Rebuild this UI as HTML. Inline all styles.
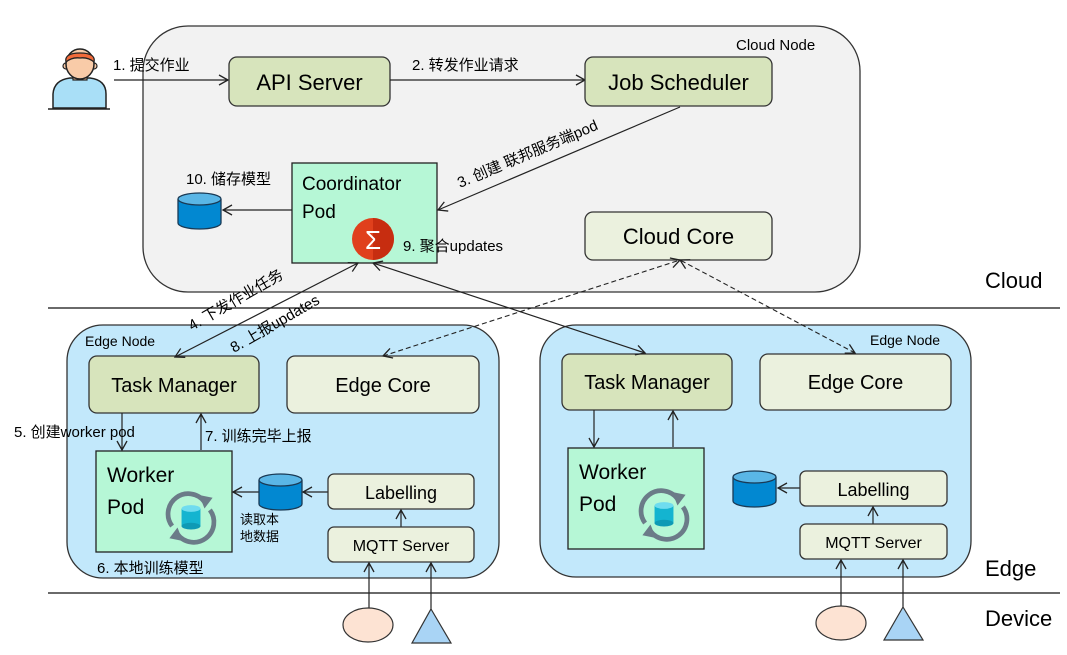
<!DOCTYPE html>
<html><head><meta charset="utf-8"><style>
html,body{margin:0;padding:0;background:#fff;}
svg{display:block;}
text{font-family:"Liberation Sans","Noto Sans CJK SC",sans-serif;fill:#000;}
</style></head><body>
<svg width="1067" height="655" viewBox="0 0 1067 655" xmlns="http://www.w3.org/2000/svg">
<defs>
<marker id="a" markerWidth="12" markerHeight="12" refX="10" refY="6" orient="auto-start-reverse" markerUnits="userSpaceOnUse">
<path d="M1,1 L10,6 L1,11" fill="none" stroke="#222" stroke-width="1.3"/></marker>
<g id="cyl">
<path d="M0,6 L0,30 A21.5,6 0 0 0 43,30 L43,6" fill="#0288d1" stroke="#1a3a55" stroke-width="1.3"/>
<ellipse cx="21.5" cy="6" rx="21.5" ry="6" fill="#5ab6e6" stroke="#1a3a55" stroke-width="1.3"/>
</g>
<g id="sync">
<path d="M-14,6 A15,15 0 0 1 10,-12" fill="none" stroke="#6b7b88" stroke-width="3.5"/>
<path d="M6,-17 L16,-15 L10,-7 Z" fill="#6b7b88"/>
<path d="M14,-6 A15,15 0 0 1 -10,12" fill="none" stroke="#6b7b88" stroke-width="3.5"/>
<path d="M-6,17 L-16,15 L-10,7 Z" fill="#6b7b88"/>
<rect x="-7" y="-7" width="14" height="13" fill="#14b4d0"/>
<ellipse cx="0" cy="-7" rx="7" ry="2.5" fill="#6fdcef"/>
<ellipse cx="0" cy="6" rx="7" ry="2.5" fill="#0e9ab5"/>
</g>
</defs>

<!-- Cloud node -->
<rect x="143" y="26" width="717" height="266" rx="45" fill="#f2f2f2" stroke="#333" stroke-width="1.3"/>
<text x="736" y="50" font-size="15">Cloud Node</text>

<!-- person -->
<g>
<path d="M53,108 L53,94 Q54,80 70,78 L90,78 Q106,80 106,94 L106,108 Z" fill="#a9dff7" stroke="#222" stroke-width="1.5"/>
<rect x="73" y="70" width="14" height="10" fill="#f6c7a4" stroke="#222" stroke-width="1.2"/>
<circle cx="66" cy="66" r="3" fill="#f9cba8" stroke="#222" stroke-width="1.2"/>
<circle cx="94" cy="66" r="3" fill="#f9cba8" stroke="#222" stroke-width="1.2"/>
<ellipse cx="80" cy="64" rx="14" ry="15" fill="#f9cba8" stroke="#222" stroke-width="1.5"/>
<path d="M66,62 Q64,53 80,53 Q96,53 94,62 Q88,57 80,58 Q72,57 66,62 Z" fill="#f26a3a" stroke="#222" stroke-width="1.3"/>
<line x1="48" y1="109" x2="110" y2="109" stroke="#222" stroke-width="1.6"/>
</g>

<line x1="114" y1="80" x2="228" y2="80" stroke="#222" stroke-width="1.2" marker-end="url(#a)"/>
<text x="113" y="70" font-size="15">1. 提交作业</text>
<rect x="229" y="57" width="161" height="49" rx="8" fill="#d7e4bc" stroke="#333" stroke-width="1.3"/>
<text x="309.5" y="90" font-size="22" text-anchor="middle">API Server</text>
<line x1="390" y1="80" x2="585" y2="80" stroke="#222" stroke-width="1.2" marker-end="url(#a)"/>
<text x="412" y="70" font-size="15">2. 转发作业请求</text>
<rect x="585" y="57" width="187" height="49" rx="8" fill="#d7e4bc" stroke="#333" stroke-width="1.3"/>
<text x="678.5" y="90" font-size="22" text-anchor="middle">Job Scheduler</text>

<line x1="680" y1="107" x2="438" y2="210" stroke="#222" stroke-width="1.2" marker-end="url(#a)"/>
<text x="0" y="0" font-size="15" transform="translate(460,188) rotate(-23)">3. 创建 联邦服务端pod</text>

<rect x="292" y="163" width="145" height="100" fill="#b6f7d6" stroke="#222" stroke-width="1.3"/>
<text x="302" y="190" font-size="19">Coordinator</text>
<text x="302" y="218" font-size="19">Pod</text>
<circle cx="373" cy="239" r="21" fill="#e0401c"/>
<path d="M373,218 A21,21 0 0 1 373,260 Z" fill="#c72d10"/>
<text x="373" y="249" font-size="26" text-anchor="middle" fill="#fff" style="fill:#fff">Σ</text>
<text x="403" y="251" font-size="15">9. 聚合updates</text>

<line x1="292" y1="210" x2="223" y2="210" stroke="#222" stroke-width="1.2" marker-end="url(#a)"/>
<use href="#cyl" x="178" y="193"/>
<text x="186" y="184" font-size="15">10. 储存模型</text>

<rect x="585" y="212" width="187" height="48" rx="8" fill="#ebf1de" stroke="#333" stroke-width="1.3"/>
<text x="678.5" y="244" font-size="22" text-anchor="middle">Cloud Core</text>

<text x="985" y="288" font-size="22">Cloud</text>
<line x1="48" y1="308" x2="1060" y2="308" stroke="#111" stroke-width="1.3"/>

<!-- Left edge node -->
<rect x="67" y="325" width="432" height="253" rx="36" fill="#c2e8fb" stroke="#333" stroke-width="1.3"/>
<text x="85" y="346" font-size="14">Edge Node</text>
<rect x="89" y="356" width="170" height="57" rx="8" fill="#d7e4bc" stroke="#333" stroke-width="1.3"/>
<text x="174" y="392" font-size="20" text-anchor="middle">Task Manager</text>
<rect x="287" y="356" width="192" height="57" rx="8" fill="#ebf1de" stroke="#333" stroke-width="1.3"/>
<text x="383" y="392" font-size="20" text-anchor="middle">Edge Core</text>
<line x1="122" y1="413" x2="122" y2="450" stroke="#222" stroke-width="1.2" marker-end="url(#a)"/>
<line x1="201" y1="450" x2="201" y2="414" stroke="#222" stroke-width="1.2" marker-end="url(#a)"/>
<text x="14" y="437" font-size="15">5. 创建worker pod</text>
<text x="205" y="441" font-size="15">7. 训练完毕上报</text>
<rect x="96" y="451" width="136" height="101" fill="#b6f7d6" stroke="#222" stroke-width="1.3"/>
<text x="107" y="482" font-size="21">Worker</text>
<text x="107" y="514" font-size="21">Pod</text>
<use href="#sync" transform="translate(191,518) scale(1.35)"/>
<line x1="259" y1="492" x2="233" y2="492" stroke="#222" stroke-width="1.2" marker-end="url(#a)"/>
<use href="#cyl" x="259" y="474"/>
<text x="240" y="524" font-size="13">读取本</text>
<text x="240" y="541" font-size="13">地数据</text>
<line x1="328" y1="492" x2="303" y2="492" stroke="#222" stroke-width="1.2" marker-end="url(#a)"/>
<rect x="328" y="474" width="146" height="35" rx="6" fill="#ebf1de" stroke="#333" stroke-width="1.3"/>
<text x="401" y="499" font-size="18" text-anchor="middle">Labelling</text>
<line x1="401" y1="527" x2="401" y2="510" stroke="#222" stroke-width="1.2" marker-end="url(#a)"/>
<rect x="328" y="527" width="146" height="35" rx="6" fill="#ebf1de" stroke="#333" stroke-width="1.3"/>
<text x="401" y="551" font-size="16" text-anchor="middle">MQTT Server</text>
<text x="97" y="573" font-size="15">6. 本地训练模型</text>

<!-- Right edge node -->
<rect x="540" y="325" width="431" height="252" rx="36" fill="#c2e8fb" stroke="#333" stroke-width="1.3"/>
<text x="870" y="345" font-size="14">Edge Node</text>
<rect x="562" y="354" width="170" height="56" rx="8" fill="#d7e4bc" stroke="#333" stroke-width="1.3"/>
<text x="647" y="389" font-size="20" text-anchor="middle">Task Manager</text>
<rect x="760" y="354" width="191" height="56" rx="8" fill="#ebf1de" stroke="#333" stroke-width="1.3"/>
<text x="855.5" y="389" font-size="20" text-anchor="middle">Edge Core</text>
<line x1="594" y1="410" x2="594" y2="447" stroke="#222" stroke-width="1.2" marker-end="url(#a)"/>
<line x1="673" y1="447" x2="673" y2="411" stroke="#222" stroke-width="1.2" marker-end="url(#a)"/>
<rect x="568" y="448" width="136" height="101" fill="#b6f7d6" stroke="#222" stroke-width="1.3"/>
<text x="579" y="479" font-size="21">Worker</text>
<text x="579" y="511" font-size="21">Pod</text>
<use href="#sync" transform="translate(664,515) scale(1.35)"/>
<use href="#cyl" x="733" y="471"/>
<line x1="800" y1="488" x2="778" y2="488" stroke="#222" stroke-width="1.2" marker-end="url(#a)"/>
<rect x="800" y="471" width="147" height="35" rx="6" fill="#ebf1de" stroke="#333" stroke-width="1.3"/>
<text x="873.5" y="496" font-size="18" text-anchor="middle">Labelling</text>
<line x1="873" y1="524" x2="873" y2="507" stroke="#222" stroke-width="1.2" marker-end="url(#a)"/>
<rect x="800" y="524" width="147" height="35" rx="6" fill="#ebf1de" stroke="#333" stroke-width="1.3"/>
<text x="873.5" y="548" font-size="16" text-anchor="middle">MQTT Server</text>

<!-- cross arrows -->
<line x1="175" y1="357" x2="358" y2="263" stroke="#222" stroke-width="1.2" marker-start="url(#a)" marker-end="url(#a)"/>
<line x1="373" y1="263" x2="645" y2="353" stroke="#222" stroke-width="1.2" marker-start="url(#a)" marker-end="url(#a)"/>
<line x1="383" y1="356" x2="680" y2="260" stroke="#222" stroke-width="1.1" stroke-dasharray="5,3" marker-start="url(#a)" marker-end="url(#a)"/>
<line x1="855" y1="353" x2="680" y2="260" stroke="#222" stroke-width="1.1" stroke-dasharray="5,3" marker-start="url(#a)" marker-end="url(#a)"/>
<text x="0" y="0" font-size="15" transform="translate(192,331) rotate(-30)">4. 下发作业任务</text>
<text x="0" y="0" font-size="15" transform="translate(234,353) rotate(-30)">8. 上报updates</text>

<text x="985" y="576" font-size="22">Edge</text>
<line x1="48" y1="593" x2="1060" y2="593" stroke="#111" stroke-width="1.3"/>
<text x="985" y="626" font-size="22">Device</text>

<!-- devices -->
<line x1="369" y1="608" x2="369" y2="563" stroke="#222" stroke-width="1.2" marker-end="url(#a)"/>
<line x1="431" y1="610" x2="431" y2="563" stroke="#222" stroke-width="1.2" marker-end="url(#a)"/>
<ellipse cx="368" cy="625" rx="25" ry="17" fill="#fde3d3" stroke="#333" stroke-width="1.2"/>
<path d="M431,609 L451,643 L412,643 Z" fill="#a9d4f5" stroke="#333" stroke-width="1.2"/>
<line x1="841" y1="606" x2="841" y2="560" stroke="#222" stroke-width="1.2" marker-end="url(#a)"/>
<line x1="903" y1="607" x2="903" y2="560" stroke="#222" stroke-width="1.2" marker-end="url(#a)"/>
<ellipse cx="841" cy="623" rx="25" ry="17" fill="#fde3d3" stroke="#333" stroke-width="1.2"/>
<path d="M903,607 L923,640 L884,640 Z" fill="#a9d4f5" stroke="#333" stroke-width="1.2"/>
</svg>
</body></html>
